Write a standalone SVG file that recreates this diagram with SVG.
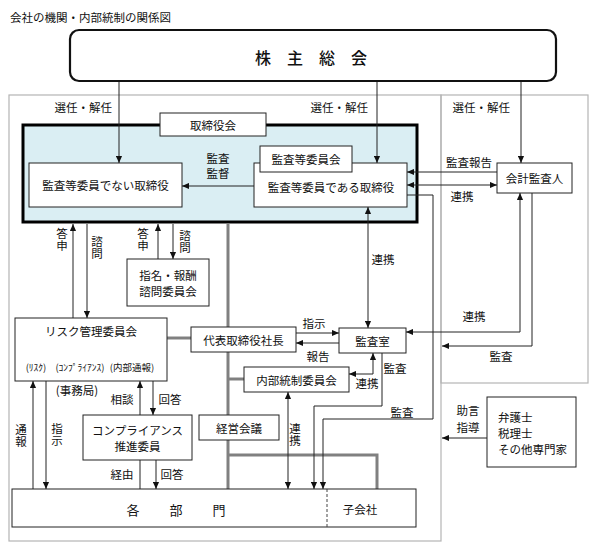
<svg xmlns="http://www.w3.org/2000/svg" width="596" height="550" viewBox="0 0 596 550">
<style>
.t{font-family:"Noto Sans CJK JP","Noto Sans",sans-serif;font-size:11.5px;fill:#111;dominant-baseline:central}
.c{text-anchor:middle}
.e{text-anchor:end}
.v{writing-mode:vertical-rl;text-anchor:middle;letter-spacing:0.5px}
.sm{font-size:9.5px;text-anchor:middle}
.box{fill:#fff;stroke:#222;stroke-width:1}
.ln{fill:none;stroke:#222;stroke-width:1}
.gl{fill:none;stroke:#808080;stroke-width:3}
.fr{fill:none;stroke:#b4b4b4;stroke-width:1.2}
</style>
<defs>
<marker id="a" viewBox="0 0 8 8" refX="8" refY="4" markerWidth="7" markerHeight="7" markerUnits="userSpaceOnUse" orient="auto-start-reverse">
<path d="M0,0.5 L8,4 L0,7.5 z" fill="#111"/>
</marker>
<marker id="s" viewBox="0 0 8 8" refX="8" refY="4" markerWidth="6" markerHeight="6" markerUnits="userSpaceOnUse" orient="auto">
<path d="M0,0.5 L8,4 L0,7.5 z" fill="#111"/>
</marker>
</defs>
<rect width="596" height="550" fill="#fff"/>
<text class="t" x="10" y="17">会社の機関・内部統制の関係図</text>

<g id="frame">
<rect class="fr" x="9" y="95" width="432" height="446"/>
<rect class="fr" x="441" y="95" width="147" height="288"/>
</g>

<g id="board">
<rect x="23" y="125" width="394" height="97" fill="#daeef3" stroke="#000" stroke-width="3"/>
</g>

<g id="connectors">
<path class="gl" d="M228,223.5 V489"/>
<path class="gl" d="M167,338 H191"/>
<path class="gl" d="M228,379 H244"/>
<path class="gl" d="M228,455 H377 V489"/>

<path class="ln" d="M119,81 V163" marker-end="url(#a)"/>
<path class="ln" d="M377,81 V163" marker-end="url(#a)"/>
<path class="ln" d="M521,81 V163" marker-end="url(#a)"/>
<path class="ln" d="M254,186 H182" marker-end="url(#a)"/>
<path class="ln" d="M497,172 H407" marker-end="url(#a)"/>
<path class="ln" d="M407,185 H497" marker-start="url(#a)" marker-end="url(#a)"/>
<path class="ln" d="M407,195 H433 V419 H323 V489" marker-end="url(#a)"/>
<path class="ln" d="M368,207 V328" marker-start="url(#a)" marker-end="url(#a)"/>
<path class="ln" d="M406,332 H520 V193" marker-start="url(#a)" marker-end="url(#a)"/>
<path class="ln" d="M532,193 V346 H442" marker-end="url(#a)"/>
<path class="ln" d="M487,438 H442" marker-end="url(#a)"/>

<path class="ln" d="M73,318 V224" marker-end="url(#a)"/>
<path class="ln" d="M87,224 V318" marker-end="url(#a)"/>
<path class="ln" d="M158,259 V224" marker-end="url(#a)"/>
<path class="ln" d="M173,224 V259" marker-end="url(#a)"/>

<path class="ln" d="M296,333 H339" marker-end="url(#a)"/>
<path class="ln" d="M339,343 H296" marker-end="url(#a)"/>
<path class="ln" d="M373,353 V374 H349" marker-start="url(#a)" marker-end="url(#a)"/>
<path class="ln" d="M382,353 V406 H314 V489" marker-end="url(#a)"/>
<path class="ln" d="M288,392 V489" marker-start="url(#a)" marker-end="url(#a)"/>

<path class="ln" d="M88,340 L38,356" marker-end="url(#s)"/>
<path class="ln" d="M88,340 V356" marker-end="url(#s)"/>
<path class="ln" d="M88,340 L140,356" marker-end="url(#s)"/>

<path class="ln" d="M140,415 V381" marker-end="url(#a)"/>
<path class="ln" d="M153,381 V415" marker-end="url(#a)"/>
<path class="ln" d="M33,489 V381" marker-end="url(#a)"/>
<path class="ln" d="M46,381 V489" marker-end="url(#a)"/>
<path class="ln" d="M140,460 V489"/>
<path class="ln" d="M156,460 V489" marker-end="url(#a)"/>
</g>

<g id="shareholders">
<rect x="70" y="30" width="486" height="51" rx="9" fill="#fff" stroke="#111" stroke-width="2.2"/>
<text class="t" x="255" y="57" style="font-size:16px;font-weight:500">株　主　総　会</text>
</g>

<g id="board-label">
<rect class="box" x="160" y="113" width="106" height="23"/>
<text class="t c" x="213" y="125">取締役会</text>
</g>

<g id="non-audit-directors">
<rect class="box" x="29" y="163" width="153" height="44"/>
<text class="t c" x="105.5" y="185">監査等委員でない取締役</text>
</g>

<g id="audit-directors">
<rect class="box" x="254" y="163" width="153" height="44"/>
<text class="t c" x="331" y="187">監査等委員である取締役</text>
</g>

<g id="audit-committee">
<rect class="box" x="260" y="146" width="92" height="26"/>
<text class="t c" x="306" y="159">監査等委員会</text>
</g>

<g id="accounting-auditor">
<rect class="box" x="497" y="163" width="75" height="30"/>
<text class="t c" x="534.5" y="178">会計監査人</text>
</g>

<g id="nomination">
<rect class="box" x="127" y="259" width="82" height="47"/>
<text class="t c" x="168" y="275">指名・報酬</text>
<text class="t c" x="168" y="291">諮問委員会</text>
</g>

<g id="risk-committee">
<rect class="box" x="15" y="318" width="152" height="63"/>
<text class="t c" x="91" y="331">リスク管理委員会</text>
<text class="t sm" x="36" y="367">(ﾘｽｸ)</text>
<text class="t sm" x="80" y="367">(ｺﾝﾌﾟﾗｲｱﾝｽ)</text>
<text class="t sm" x="132" y="367">(内部通報)</text>
</g>

<g id="president">
<rect class="box" x="191" y="327" width="105" height="25"/>
<text class="t c" x="243.5" y="340">代表取締役社長</text>
</g>

<g id="audit-office">
<rect class="box" x="339" y="328" width="67" height="25"/>
<text class="t c" x="372.5" y="341">監査室</text>
</g>

<g id="internal-control">
<rect class="box" x="244" y="367" width="105" height="25"/>
<text class="t c" x="296.5" y="380">内部統制委員会</text>
</g>

<g id="management-meeting">
<rect class="box" x="199" y="415" width="80" height="25"/>
<text class="t c" x="239" y="428">経営会議</text>
</g>

<g id="compliance">
<rect class="box" x="83" y="415" width="109" height="45"/>
<text class="t c" x="137.5" y="430">コンプライアンス</text>
<text class="t c" x="137.5" y="446">推進委員</text>
</g>

<g id="experts">
<rect class="box" x="487" y="397" width="89" height="70"/>
<text class="t" x="498" y="417">弁護士</text>
<text class="t" x="498" y="433">税理士</text>
<text class="t" x="498" y="449">その他専門家</text>
</g>

<g id="departments">
<rect class="box" x="12" y="489" width="404" height="38"/>
<path d="M327,489 V527" stroke="#444" stroke-width="1" stroke-dasharray="3,2"/>
<text class="t" x="126.5" y="509" style="font-size:13px;letter-spacing:8.5px">各　部　門</text>
<text class="t c" x="360" y="509">子会社</text>
</g>

<g id="labels">
<text class="t e" x="112" y="107">選任・解任</text>
<text class="t e" x="368" y="107">選任・解任</text>
<text class="t e" x="510" y="107">選任・解任</text>
<text class="t c" x="218" y="158">監査</text>
<text class="t c" x="218" y="173">監督</text>
<text class="t c" x="469" y="162">監査報告</text>
<text class="t c" x="462" y="196">連携</text>
<text class="t c" x="383" y="259">連携</text>
<text class="t c" x="474" y="316">連携</text>
<text class="t c" x="501" y="356">監査</text>
<text class="t v" x="62" y="240">答申</text>
<text class="t v" x="97" y="248">諮問</text>
<text class="t v" x="143" y="240">答申</text>
<text class="t v" x="185" y="242">諮問</text>
<text class="t c" x="314" y="323">指示</text>
<text class="t c" x="318" y="356">報告</text>
<text class="t c" x="395" y="368">監査</text>
<text class="t c" x="367" y="383">連携</text>
<text class="t c" x="402" y="412">監査</text>
<text class="t v" x="295" y="435">連携</text>
<text class="t c" x="77" y="390">(事務局)</text>
<text class="t c" x="122" y="399">相談</text>
<text class="t c" x="170" y="399">回答</text>
<text class="t v" x="21" y="436">通報</text>
<text class="t v" x="57" y="435">指示</text>
<text class="t c" x="122" y="474">経由</text>
<text class="t c" x="172" y="474">回答</text>
<text class="t c" x="468" y="410">助言</text>
<text class="t c" x="468" y="427">指導</text>
</g>
</svg>
